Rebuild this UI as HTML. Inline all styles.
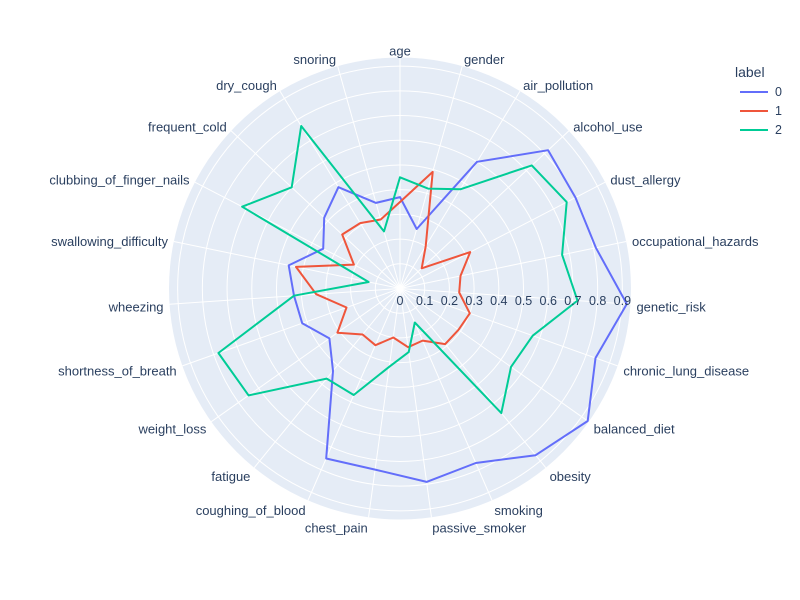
<!DOCTYPE html>
<html><head><meta charset="utf-8">
<style>
body{margin:0;background:#fff;}
svg{display:block;font-family:"Liberation Sans",Arial,sans-serif;}
</style></head>
<body>
<svg id="chart" width="800" height="600" viewBox="0 0 800 600">
<g id="grid"></g>
<g id="series"></g>
<g id="labels"></g>
<g id="rticks"></g>
<g id="legend">
<text x="735" y="77" font-size="14" fill="#2a3f5f">label</text>
</g>
</svg>
<script>
const categories = ["age","gender","air_pollution","alcohol_use","dust_allergy","occupational_hazards","genetic_risk","chronic_lung_disease","balanced_diet","obesity","smoking","passive_smoker","chest_pain","coughing_of_blood","fatigue","weight_loss","shortness_of_breath","wheezing","swallowing_difficulty","clubbing_of_finger_nails","frequent_cold","dry_cough","snoring"];
const series0 = [0.37,0.25,0.60,0.82,0.80,0.81,0.92,0.84,0.93,0.87,0.77,0.79,0.74,0.75,0.43,0.35,0.42,0.43,0.46,0.35,0.42,0.48,0.36];
const series1 = [0.35,0.49,0.20,0.12,0.32,0.25,0.24,0.30,0.29,0.29,0.23,0.24,0.20,0.25,0.24,0.31,0.23,0.34,0.43,0.21,0.32,0.31,0.29];
const series2 = [0.45,0.42,0.47,0.73,0.76,0.67,0.72,0.57,0.55,0.65,0.15,0.26,0.32,0.47,0.47,0.75,0.78,0.43,0.13,0.72,0.60,0.77,0.24];
const seriesNames = ["0","1","2"];
const radialTicks = [0,0.1,0.2,0.3,0.4,0.5,0.6,0.7,0.8,0.9];
const rMax = 0.935;

const NS="http://www.w3.org/2000/svg";
const cx=400, cy=288.5, R=231;
const colors=["#636efa","#EF553B","#00cc96"];
function rScale(v){return v/rMax*R;}
function ang(i){return i*2*Math.PI/categories.length;}
function pt(i,v){const a=ang(i),r=rScale(v);return [cx+r*Math.sin(a), cy-r*Math.cos(a)];}
function mk(tag,attrs,parent){const e=document.createElementNS(NS,tag);for(const k in attrs)e.setAttribute(k,attrs[k]);parent.appendChild(e);return e;}

const grid=document.getElementById('grid');
const bg=mk('circle',{cx:cx,cy:cy,r:R,fill:'#e5ecf6'},grid);


radialTicks.forEach(t=>{ if(t>0){
  const c=mk('circle',{cx:cx,cy:cy,r:rScale(t),fill:'none',stroke:'#fff','stroke-width':1},grid);
  
  
}});
categories.forEach((c,i)=>{
  const p=pt(i,rMax);
  const l=mk('line',{x1:cx,y1:cy,x2:p[0],y2:p[1],stroke:'#fff','stroke-width':1},grid);
  
  
});

const labels=document.getElementById('labels');
categories.forEach((c,i)=>{
  const a=ang(i), s=Math.sin(a), co=Math.cos(a);
  const r=R+6;
  const x=cx+r*s, y=cy-r*co;
  let anchor='middle'; if(s>0.05)anchor='start'; else if(s<-0.05)anchor='end';
  const dy = 6.5 - 2.75*co;
  const t=mk('text',{x:x,y:y+dy,'font-size':13,fill:'#2a3f5f','text-anchor':anchor},labels);
  t.textContent=c;
  
  
});

const ser=document.getElementById('series');
[series0,series1,series2].forEach((data,k)=>{
  const d=data.map((v,i)=>{const p=pt(i,v);return (i?'L':'M')+p[0].toFixed(1)+','+p[1].toFixed(1);}).join('')+'Z';
  const path=mk('path',{d:d,fill:'none',stroke:colors[k],'stroke-width':2,'stroke-linejoin':'round'},ser);
  
  
});

const rt=document.getElementById('rticks');
radialTicks.forEach(t=>{
  const x=cx+rScale(t);
  const tx=mk('text',{x:x,y:305,'font-size':12.5,fill:'#2a3f5f','text-anchor':'middle'},rt);
  tx.textContent=String(t);
  
  
});

const lg=document.getElementById('legend');
seriesNames.forEach((n,k)=>{
  const y=92+k*19;
  const ln=mk('line',{x1:740,y1:y,x2:768,y2:y,stroke:colors[k],'stroke-width':2},lg);
  
  
  const tx=mk('text',{x:775,y:y+4,'font-size':12.5,fill:'#2a3f5f'},lg);
  tx.textContent=n;
  
  
});
</script>
</body></html>
